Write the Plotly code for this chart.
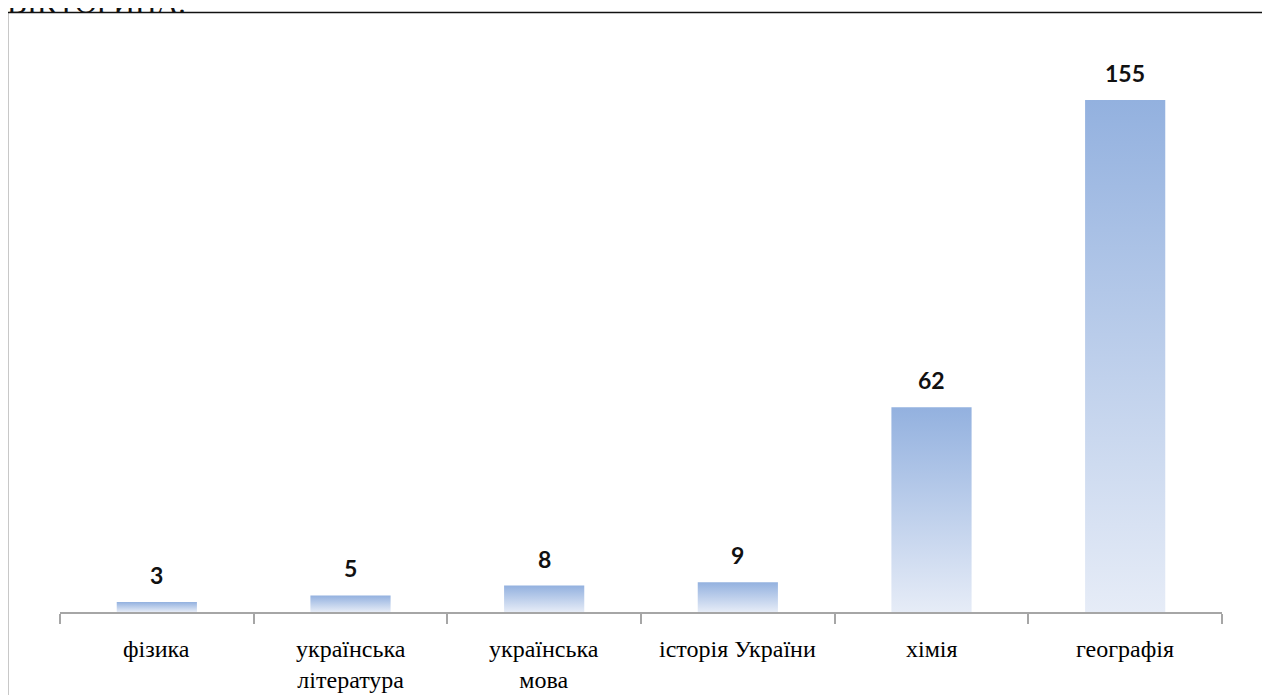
import plotly.graph_objects as go

categories = ["фізика", "українська<br>література", "українська<br>мова",
              "історія України", "хімія", "географія"]
values = [3, 5, 8, 9, 62, 155]

BAR_HALF = 0.207
TOP_COLOR = "#93B1DF"
BOTTOM_COLOR = "#E6ECF7"
SERIF = "Liberation Serif, Times New Roman, serif"

fig = go.Figure()

for i, v in enumerate(values):
    fig.add_trace(go.Scatter(
        x=[i - BAR_HALF, i - BAR_HALF, i + BAR_HALF, i + BAR_HALF, i - BAR_HALF],
        y=[0, v, v, 0, 0],
        mode="lines",
        line=dict(width=0),
        fill="toself",
        fillgradient=dict(type="vertical",
                          colorscale=[[0, BOTTOM_COLOR], [1, TOP_COLOR]]),
        hoverinfo="skip",
        showlegend=False,
    ))

# value labels above bars
for i, v in enumerate(values):
    fig.add_annotation(x=i, y=v, xref="x", yref="y", text=str(v),
                       showarrow=False, yanchor="bottom", yshift=11,
                       font=dict(family="Lato", size=23, color="#111111",
                                 weight="bold"))

# category labels below the axis
for i, c in enumerate(categories):
    fig.add_annotation(x=i, y=0, xref="x", yref="y", text=c,
                       showarrow=False, yanchor="top", yshift=-22,
                       align="center",
                       font=dict(family=SERIF, size=24, color="#000000"))

fig.update_xaxes(
    range=[-0.5, len(values) - 0.5],
    tickmode="array",
    tickvals=[k - 0.5 for k in range(len(values) + 1)],
    ticktext=["" for _ in range(len(values) + 1)],
    ticks="outside", ticklen=10, tickcolor="#A6A6A6", tickwidth=1.5,
    showticklabels=False,
    showline=True, linecolor="#A6A6A6", linewidth=1.5,
    showgrid=False, zeroline=False, automargin=False,
    fixedrange=True,
)
fig.update_yaxes(range=[0, 173.2], visible=False, showgrid=False,
                 zeroline=False, automargin=False)

# surrounding frame of the chart object
fig.add_shape(type="rect", xref="paper", yref="paper",
              x0=-0.0452, x1=1.2, y0=-0.4, y1=1.048,
              line=dict(color="#111111", width=1.5), fillcolor="rgba(0,0,0,0)")

# heading of the page above the chart, cut off by the top edge
fig.add_annotation(text="ВІКТОРИНА.", xref="paper", yref="paper",
                   x=-0.047, y=1.033, xanchor="left", yanchor="bottom",
                   showarrow=False,
                   font=dict(family=SERIF, size=30, color="#111111"))

fig.update_layout(
    width=1270, height=695,
    margin=dict(l=52, r=56, t=32, b=91, autoexpand=False),
    font=dict(family=SERIF),
    paper_bgcolor="white", plot_bgcolor="white",
    showlegend=False,
)

fig.write_html("out.html")
